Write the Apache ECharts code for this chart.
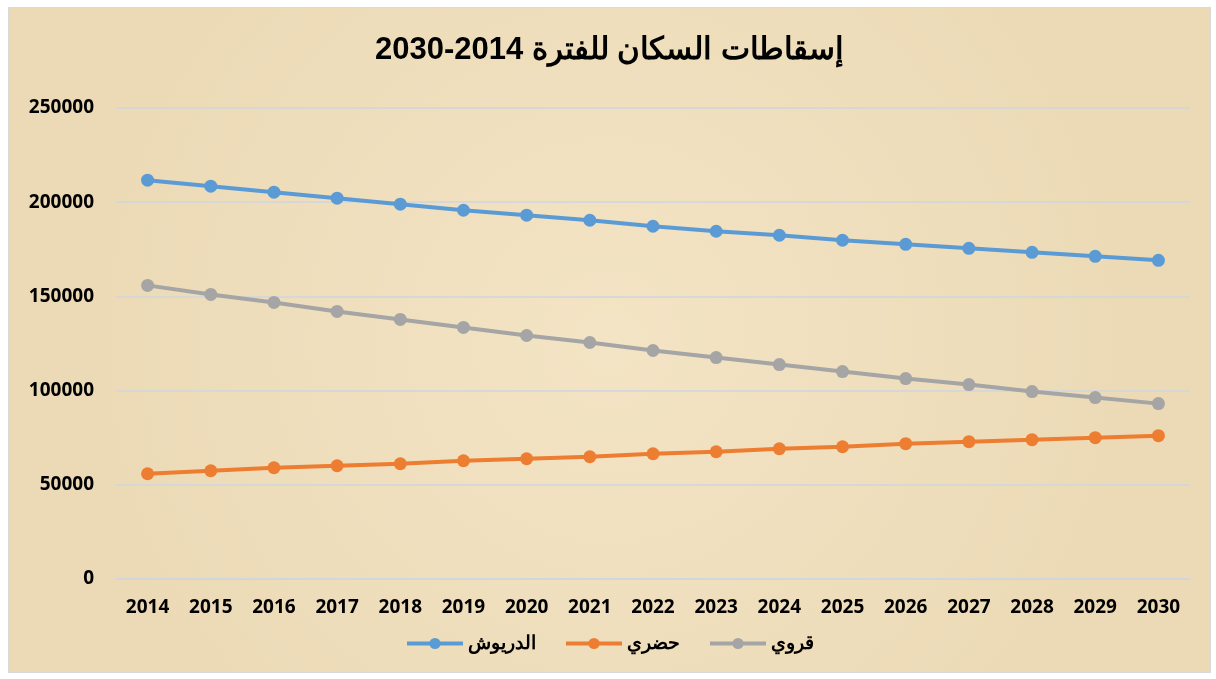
<!DOCTYPE html>
<html>
<head>
<meta charset="utf-8">
<script src="https://cdn.jsdelivr.net/npm/echarts@6/dist/echarts.min.js"></script>
<style>
    html,body{margin:0;padding:0;background:#fff;}
    #chart{position:absolute;left:8px;top:7px;width:1201px;height:664px;border:1px solid #d9d9d9;}
</style>
</head>
<body>
<div id="chart"></div>
<script>
// السنوات
var years=['2014','2015','2016','2017','2018','2019','2020','2021','2022','2023','2024','2025','2026','2027','2028','2029','2030'];
// حضري
var urban=[55850,57450,59040,60110,61170,62770,63830,64890,66490,67550,69150,70210,71810,72870,73940,75000,76060];
// قروي
var rural=[155850,151060,146810,142020,137770,133510,129260,125530,121280,117550,113830,110110,106380,103190,99470,96280,93090];
// الدريوش = المجموع
var total=[211700,208510,205320,202130,198940,195740,193090,190420,187230,184570,182450,179790,177660,175530,173400,171270,169150];

var seriesNames=['الدريوش','حضري','قروي'];
var colors=['#5b9bd5','#ed7d31','#a5a5a5'];

var myChart=echarts.init(document.getElementById('chart'));
var lineStyle=function (c) {
    return {
        type:'line',
        symbol:'circle',
        symbolSize:13,
        lineStyle:{width:4,color:c},
        itemStyle:{color:c}
    };
};
var s1=lineStyle(colors[0]);s1.name=seriesNames[0];s1.data=total;
var s2=lineStyle(colors[1]);s2.name=seriesNames[1];s2.data=urban;
var s3=lineStyle(colors[2]);s3.name=seriesNames[2];s3.data=rural;

var labelFont={fontFamily:'Noto Sans, DejaVu Sans',fontWeight:'bold',fontSize:19,color:'#000'};

var option={
    backgroundColor:{
        type:'radial',x:0.5,y:0.5,r:0.8,
        colorStops:[{offset:0,color:'#f3e4c5'},{offset:1,color:'#ecdab6'}]
    },
    animation:false,
    color:colors,
    title:{
        text:'إسقاطات السكان للفترة 2014-2030',
        left:'center',
        top:22,
        textStyle:{fontFamily:'Liberation Sans, Arial',fontWeight:'bold',fontSize:31,color:'#000'}
    },
    legend:{
        bottom:14,
        left:'center',
        itemWidth:56,
        itemHeight:14,
        itemGap:28,
        lineStyle:{width:4},
        textStyle:{fontFamily:'Liberation Sans, Arial',fontWeight:'bold',fontSize:19,color:'#000'},
        data:seriesNames
    },
    grid:{left:107,right:20,top:100,bottom:93},
    xAxis:{
        type:'category',
        data:years,
        boundaryGap:true,
        axisLine:{lineStyle:{color:'#cfd6de',width:1.5}},
        axisTick:{show:false},
        axisLabel:Object.assign({margin:19},labelFont)
    },
    yAxis:{
        type:'value',
        min:0,
        max:250000,
        interval:50000,
        axisLine:{show:false},
        axisTick:{show:false},
        splitLine:{lineStyle:{color:'#cfd6de',width:1.5}},
        axisLabel:Object.assign({margin:22,formatter:function (v) {return String(v);}},labelFont)
    },
    series:[s1,s2,s3]
};
myChart.setOption(option);
</script>
</body>
</html>
